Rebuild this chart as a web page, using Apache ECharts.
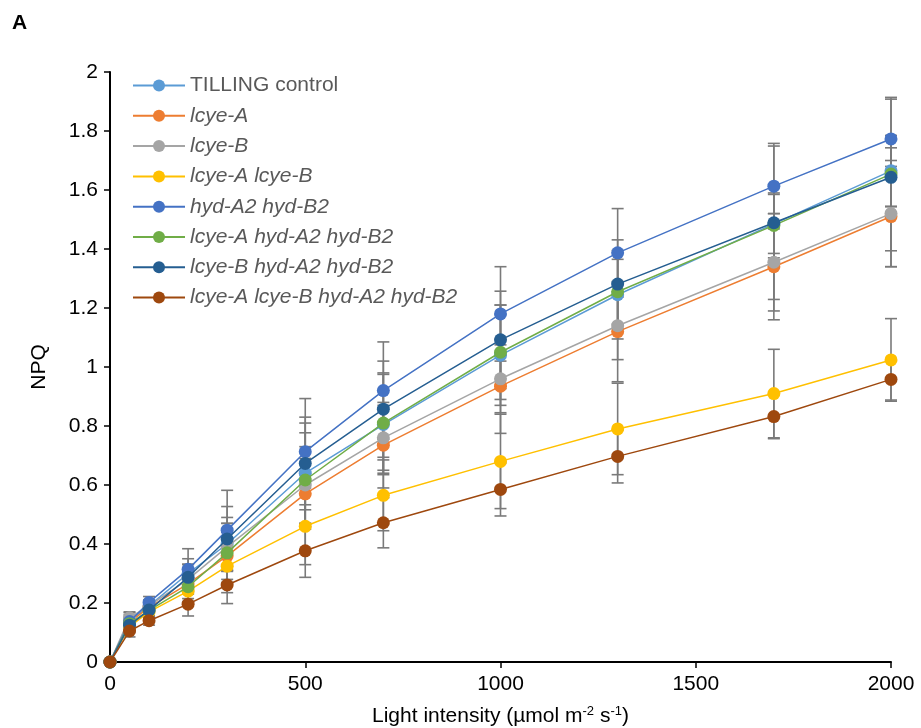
<!DOCTYPE html>
<html>
<head>
<meta charset="utf-8">
<script src="https://cdn.jsdelivr.net/npm/echarts@6/dist/echarts.min.js"></script>
<style>html,body{margin:0;padding:0;background:#fff;}#c{width:921px;height:728px;}</style>
</head>
<body>
<div id="c"></div>
<script>
// ---- data ----
const xValues = [0, 50, 100, 200, 300, 500, 700, 1000, 1300, 1700, 2000];
const seriesNames = ['TILLING control', 'lcye-A', 'lcye-B', 'lcye-A lcye-B', 'hyd-A2 hyd-B2',
  'lcye-A hyd-A2 hyd-B2', 'lcye-B hyd-A2 hyd-B2', 'lcye-A lcye-B hyd-A2 hyd-B2'];
const tilling   = [0, 0.140, 0.190, 0.300, 0.400, 0.640, 0.805, 1.040, 1.245, 1.485, 1.665];
const lcyeA     = [0, 0.135, 0.185, 0.265, 0.360, 0.570, 0.735, 0.935, 1.120, 1.340, 1.510];
const lcyeB     = [0, 0.150, 0.190, 0.280, 0.390, 0.600, 0.760, 0.960, 1.140, 1.355, 1.520];
const lcyeAB    = [0, 0.120, 0.170, 0.240, 0.325, 0.460, 0.565, 0.680, 0.790, 0.910, 1.024];
const hyd       = [0, 0.137, 0.202, 0.314, 0.447, 0.713, 0.920, 1.180, 1.387, 1.613, 1.773];
const lcyeAhyd  = [0, 0.130, 0.175, 0.255, 0.370, 0.617, 0.810, 1.050, 1.255, 1.480, 1.654];
const lcyeBhyd  = [0, 0.125, 0.176, 0.287, 0.417, 0.673, 0.857, 1.092, 1.281, 1.489, 1.643];
const quad      = [0, 0.105, 0.140, 0.196, 0.261, 0.377, 0.472, 0.585, 0.697, 0.832, 0.958];
// standard errors
const errTilling  = [0, 0.02, 0.02, 0.05, 0.09, 0.17, 0.17, 0.17, 0.15, 0.10, 0.12];
const errLcyeA    = [0, 0.02, 0.02, 0.05, 0.08, 0.12, 0.145, 0.16, 0.17, 0.18, 0.17];
const errLcyeB    = [0, 0.02, 0.02, 0.05, 0.08, 0.13, 0.11, 0.115, 0.115, 0.165, 0.18];
const errLcyeAB   = [0, 0.02, 0.02, 0.04, 0.09, 0.13, 0.12, 0.16, 0.155, 0.15, 0.14];
const errHyd      = [0, 0.03, 0.02, 0.07, 0.135, 0.18, 0.165, 0.16, 0.15, 0.145, 0.135];
const errLcyeAhyd = [0, 0.02, 0.02, 0.05, 0.10, 0.16, 0.17, 0.16, 0.11, 0.11, 0.26];
const errLcyeBhyd = [0, 0.02, 0.02, 0.045, 0.11, 0.157, 0.163, 0.165, 0.15, 0.26, 0.10];
const errQuad     = [0, 0.02, 0.015, 0.04, 0.063, 0.09, 0.085, 0.09, 0.09, 0.075, 0.07];
const xTicks = [0, 500, 1000, 1500, 2000];
const colors = ['#5B9BD5', '#ED7D31', '#A5A5A5', '#FFC000', '#4472C4', '#70AD47', '#255E91', '#9E480E'];

const values = [tilling, lcyeA, lcyeB, lcyeAB, hyd, lcyeAhyd, lcyeBhyd, quad];
const errors = [errTilling, errLcyeA, errLcyeB, errLcyeAB, errHyd, errLcyeAhyd, errLcyeBhyd, errQuad];

const FONT = 'Liberation Sans, Arial, sans-serif';
const chart = echarts.init(document.getElementById('c'), null, {renderer: 'canvas'});

const errData = [];
values.forEach((vals, i) => {
  vals.forEach((v, j) => {
    const e = errors[i][j];
    if (e > 0) errData.push([xValues[j], v - e, v + e]);
  });
});

const series = [{
  type: 'custom',
  z: 1,
  silent: true,
  data: errData,
  encode: {x: 0, y: [1, 2]},
  renderItem: function (params, api) {
    const x = api.value(0), lo = api.value(1), hi = api.value(2);
    const a = api.coord([x, lo]), b = api.coord([x, hi]);
    const w = 6;
    const st = {stroke: '#7a7a7a', lineWidth: 1.6};
    return {type: 'group', children: [
      {type: 'line', shape: {x1: a[0], y1: a[1], x2: b[0], y2: b[1]}, style: st},
      {type: 'line', shape: {x1: a[0] - w, y1: a[1], x2: a[0] + w, y2: a[1]}, style: st},
      {type: 'line', shape: {x1: b[0] - w, y1: b[1], x2: b[0] + w, y2: b[1]}, style: st}
    ]};
  }
}];
values.forEach((vals, i) => {
  series.push({
    name: seriesNames[i],
    type: 'line',
    z: 2 + i,
    data: vals.map((v, j) => [xValues[j], v]),
    symbol: 'circle',
    symbolSize: 13,
    showAllSymbol: true,
    lineStyle: {color: colors[i], width: 1.5},
    itemStyle: {color: colors[i]},
    emphasis: {disabled: true}
  });
});

chart.setOption({
  animation: false,
  backgroundColor: '#fff',
  color: colors,
  textStyle: {fontFamily: FONT},
  grid: {left: 110, right: 30, top: 72, bottom: 66, containLabel: false, outerBoundsMode: 'none'},
  graphic: [{
    type: 'text', left: 12, top: 13,
    style: {text: 'A', font: 'bold 21px ' + FONT, fill: '#000'}
  }],
  legend: {
    orient: 'vertical',
    left: 127, top: 70,
    itemWidth: 52, itemHeight: 15,
    itemGap: 9.3,
    data: seriesNames,
    selectedMode: false,
    formatter: function (name) {
      return name === 'TILLING control' ? '{n|' + name + '}' : '{i|' + name + '}';
    },
    textStyle: {
      fontSize: 21, color: '#595959', fontFamily: FONT, lineHeight: 21,
      rich: {
        n: {fontSize: 21, color: '#595959', fontFamily: FONT, fontStyle: 'normal'},
        i: {fontSize: 21, color: '#595959', fontFamily: FONT, fontStyle: 'italic'}
      }
    }
  },
  xAxis: {
    type: 'value', min: 0, max: 2000, interval: 500,
    name: 'Light intensity (\u00b5mol m{sup|-2} s{sup|-1})',
    nameLocation: 'middle', nameGap: 43,
    nameTextStyle: {
      fontSize: 21, color: '#000', fontFamily: FONT,
      rich: {sup: {fontSize: 13, verticalAlign: 'top', padding: [0, 0, 10, 0], color: '#000', fontFamily: FONT}}
    },
    axisLine: {lineStyle: {color: '#000', width: 2}},
    axisTick: {show: true, length: 6, lineStyle: {color: '#000', width: 1.5}},
    axisLabel: {fontSize: 21, color: '#000', margin: 12, fontFamily: FONT,
      formatter: function (v) { return String(v); }},
    splitLine: {show: false}
  },
  yAxis: {
    type: 'value', min: 0, max: 2, interval: 0.2,
    name: 'NPQ', nameLocation: 'middle', nameGap: 60,
    nameTextStyle: {fontSize: 21, color: '#000', fontFamily: FONT},
    axisLine: {show: true, lineStyle: {color: '#000', width: 2}},
    axisTick: {show: true, length: 6, lineStyle: {color: '#000', width: 1.5}},
    axisLabel: {fontSize: 21, color: '#000', margin: 12, fontFamily: FONT},
    splitLine: {show: false}
  },
  series: series
});
</script>
</body>
</html>
